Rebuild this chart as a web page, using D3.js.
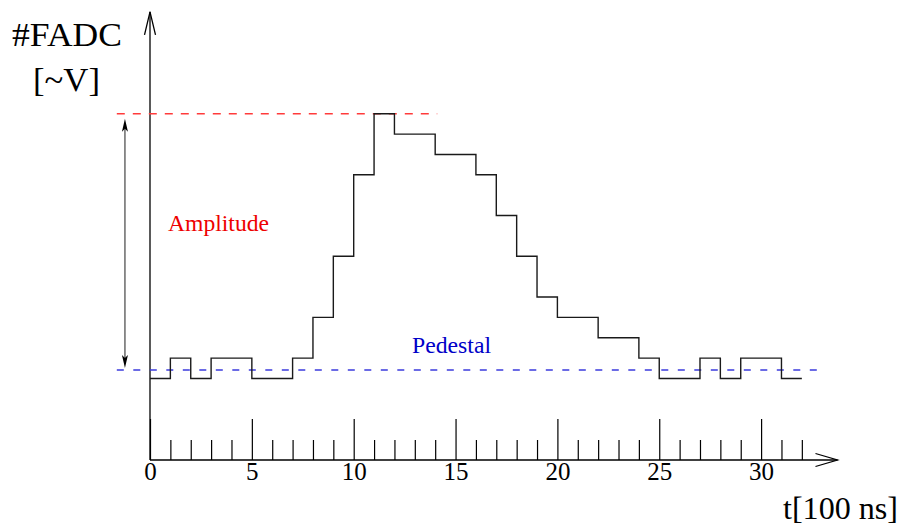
<!DOCTYPE html>
<html>
<head>
<meta charset="utf-8">
<script src="https://cdn.jsdelivr.net/npm/d3@7"></script>
<style>
  html, body { margin: 0; padding: 0; background: #fff; }
  svg text { font-family: "Liberation Serif", "DejaVu Serif", serif; }
</style>
</head>
<body>
<div id="chartContainer"></div>
<script>
// FADC samples, one value per 100 ns bin (bin 0 .. 31)
var samples = [4, 5, 4, 5, 5, 4, 4, 5, 7, 10, 14, 17, 16, 16, 15, 15,
               14, 12, 10, 8, 7, 7, 6, 6, 5, 4, 4, 5, 4, 5, 5, 4];
var majorTicks = [0, 5, 10, 15, 20, 25, 30];
var minorTicks = d3.range(1, 33).filter(function(d) { return d % 5 !== 0; });
var pedestal = 4.42;
var amplitude = 17;

var width = 903, height = 527;
var svg = d3.select("#chartContainer")
  .append("svg")
  .attr("width", width)
  .attr("height", height);

var unit = 20.37;
var xScale = d3.scaleLinear().domain([0, 32]).range([150, 150 + 32 * unit]);
var yScale = d3.scaleLinear().domain([0, 17]).range([460, 460 - 17 * unit]);

// minor ticks
var minorAxis = d3.axisBottom(xScale)
  .tickValues(minorTicks)
  .tickSizeInner(-20)
  .tickSizeOuter(0)
  .tickFormat("");
svg.append("g")
  .attr("transform", "translate(0," + yScale(0) + ")")
  .call(minorAxis)
  .call(function(g) { g.select(".domain").remove(); })
  .selectAll("line").attr("stroke", "#000").attr("stroke-width", 1.2);

// major ticks with labels
var majorAxis = d3.axisBottom(xScale)
  .tickValues(majorTicks)
  .tickSizeInner(-41)
  .tickSizeOuter(0);
var gMajor = svg.append("g")
  .attr("transform", "translate(0," + yScale(0) + ")")
  .call(majorAxis);
gMajor.select(".domain").remove();
gMajor.selectAll("line").attr("stroke", "#000").attr("stroke-width", 1.2);
gMajor.selectAll("text")
  .attr("y", 20).attr("dy", 0)
  .attr("fill", "#000")
  .style("font-size", "25px")
  .style("font-family", "'Liberation Serif', 'DejaVu Serif', serif");

// axis lines with open arrow heads
var xEnd = 33.75, yTop = 22.0;
svg.append("line")
  .attr("x1", xScale(0)).attr("y1", yScale(0))
  .attr("x2", xScale(xEnd)).attr("y2", yScale(0))
  .attr("stroke", "#000").attr("stroke-width", 1.3);
svg.append("path")
  .attr("d", "M" + (xScale(xEnd) - 22) + "," + (yScale(0) - 6.5) +
             "L" + xScale(xEnd) + "," + yScale(0) +
             "L" + (xScale(xEnd) - 22) + "," + (yScale(0) + 6.5))
  .attr("fill", "none").attr("stroke", "#000").attr("stroke-width", 1.3);
svg.append("line")
  .attr("x1", xScale(0)).attr("y1", yScale(0))
  .attr("x2", xScale(0)).attr("y2", yScale(yTop))
  .attr("stroke", "#000").attr("stroke-width", 1.3);
svg.append("path")
  .attr("d", "M" + (xScale(0) - 5.5) + "," + (yScale(yTop) + 23) +
             "L" + xScale(0) + "," + yScale(yTop) +
             "L" + (xScale(0) + 5.5) + "," + (yScale(yTop) + 23))
  .attr("fill", "none").attr("stroke", "#000").attr("stroke-width", 1.3);

// reference lines
svg.append("line")
  .attr("x1", xScale(-1.63)).attr("x2", xScale(14.1))
  .attr("y1", yScale(amplitude)).attr("y2", yScale(amplitude))
  .attr("stroke", "#ff3b3b").attr("stroke-width", 1.5)
  .attr("stroke-dasharray", "8,8");
svg.append("line")
  .attr("x1", xScale(-1.63)).attr("x2", xScale(33.2))
  .attr("y1", yScale(pedestal)).attr("y2", yScale(pedestal))
  .attr("stroke", "#3b3bdd").attr("stroke-width", 1.5)
  .attr("stroke-dasharray", "7,9.5");

// step histogram
var pts = samples.map(function(v, i) { return [i, v]; });
pts.push([samples.length, samples[samples.length - 1]]);
var line = d3.line()
  .x(function(d) { return xScale(d[0]); })
  .y(function(d) { return yScale(d[1]); })
  .curve(d3.curveStepAfter);
svg.append("path")
  .datum(pts)
  .attr("d", line)
  .attr("fill", "none")
  .attr("stroke", "#1a1a1a")
  .attr("stroke-width", 1.4);

// amplitude double arrow
var ax = xScale(-1.23);
var yA = yScale(amplitude) + 5, yP = yScale(pedestal) - 2;
svg.append("line")
  .attr("x1", ax).attr("x2", ax)
  .attr("y1", yA + 10).attr("y2", yP - 10)
  .attr("stroke", "#444").attr("stroke-width", 1.2);
svg.append("path")
  .attr("d", "M" + ax + "," + yA + "L" + (ax - 3) + "," + (yA + 13) +
             "L" + ax + "," + (yA + 10) + "L" + (ax + 3) + "," + (yA + 13) + "Z")
  .attr("fill", "#000");
svg.append("path")
  .attr("d", "M" + ax + "," + yP + "L" + (ax - 3) + "," + (yP - 13) +
             "L" + ax + "," + (yP - 10) + "L" + (ax + 3) + "," + (yP - 13) + "Z")
  .attr("fill", "#000");

// labels
function label(txt, x, y, size, len, color) {
  svg.append("text")
    .attr("x", x).attr("y", y)
    .attr("fill", color)
    .attr("textLength", len)
    .attr("lengthAdjust", "spacingAndGlyphs")
    .style("font-size", size + "px")
    .text(txt);
}
label("#FADC", 12, 46, 34, 110, "#000");
label("[~V]", 33, 91, 34, 67, "#000");
label("t[100 ns]", 783, 519, 31, 115, "#000");
label("Amplitude", 168, 231, 24, 101, "#ee0000");
label("Pedestal", 412, 353, 24, 79, "#0000c8");
</script>
</body>
</html>
